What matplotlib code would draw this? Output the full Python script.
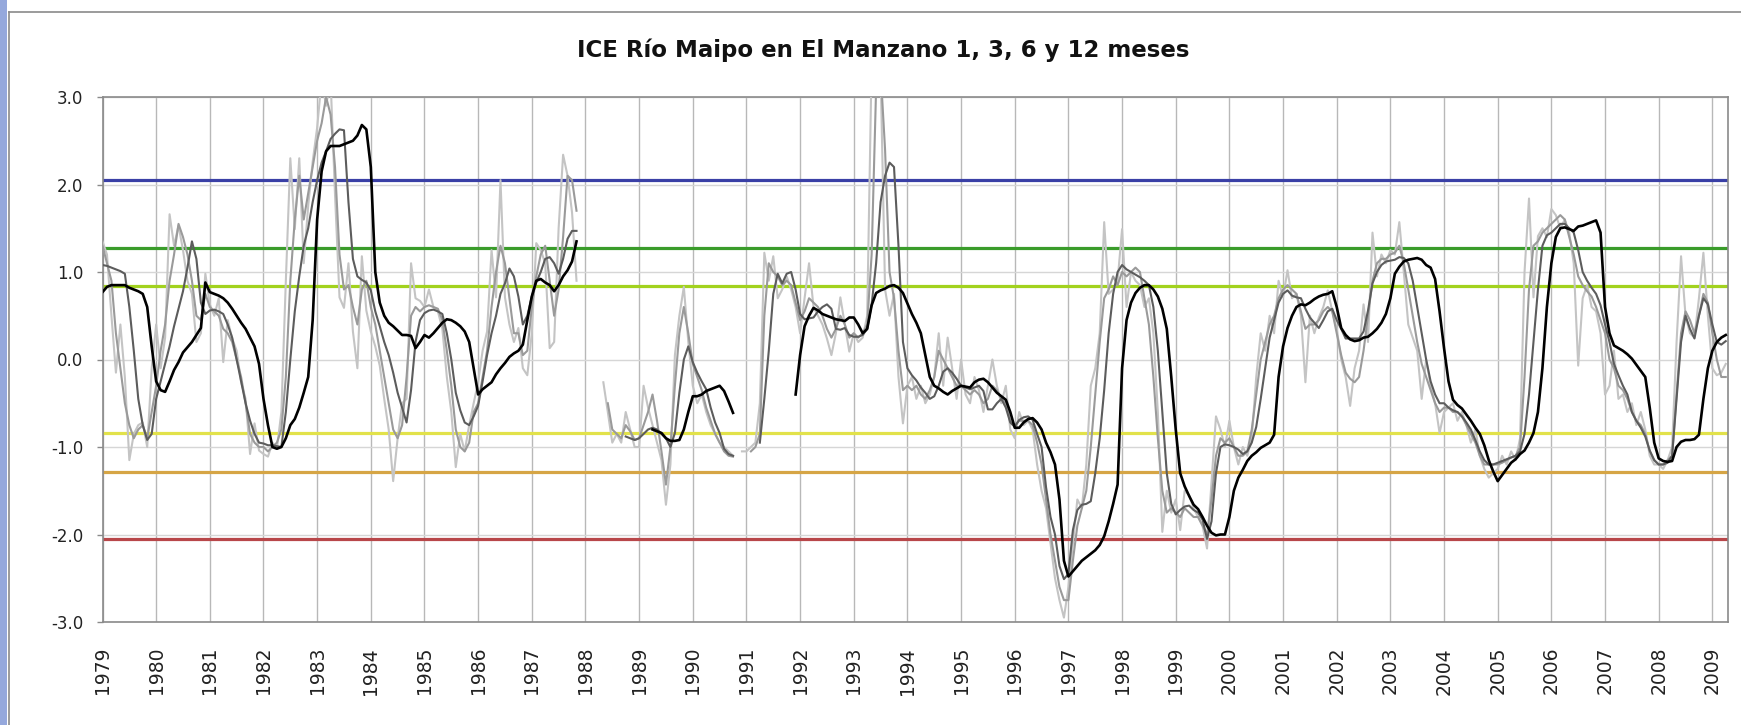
import numpy as np
import matplotlib
matplotlib.use("Agg")
import matplotlib.pyplot as plt
from matplotlib.lines import Line2D
from matplotlib.patches import Rectangle

nan = np.nan

# Datos mensuales desde enero 1979 (ICE 1, 3, 6 y 12 meses)
ice_1 = [
    1.35, 1.20, 0.50, -0.15, 0.40, -0.20, -1.15, -0.85, -0.75, -0.72, -1.00, -0.10,  # 1979
    0.40, -0.10, 0.25, 1.66, 1.30, 1.53, 1.25, 0.90, 0.75, 0.20, 0.30, 0.98,  # 1980
    0.63, 0.50, 0.70, -0.03, 0.45, 0.24, 0.10, -0.26, -0.45, -1.08, -0.73, -1.04,  # 1981
    -1.08, -1.11, -0.95, -1.02, -0.60, 0.90, 2.30, 1.49, 2.30, 1.10, 1.76, 2.26,  # 1982
    2.65, 3.20, 2.90, 3.20, 1.88, 0.71, 0.59, 1.10, 0.32, -0.10, 1.18, 0.56,  # 1983
    0.32, 0.15, -0.07, -0.45, -0.80, -1.39, -0.90, -0.50, -0.45, 1.10, 0.70, 0.67,  # 1984
    0.60, 0.80, 0.60, 0.55, 0.35, -0.20, -0.60, -1.23, -0.85, -1.05, -0.75, -0.50,  # 1985
    -0.26, 0.10, 0.32, 1.25, 0.71, 2.05, 0.71, 0.40, 0.20, 0.36, -0.10, -0.18,  # 1986
    0.30, 1.33, 1.25, 1.10, 0.13, 0.20, 1.50, 2.34, 2.10, 1.68, 0.90, nan,  # 1987
    nan, nan, nan, nan, -0.26, -0.60, -0.95, -0.85, -0.95, -0.60, -0.80, -1.00,  # 1988
    -1.00, -0.30, -0.55, -0.75, -0.95, -1.15, -1.66, -1.20, 0.05, 0.50, 0.83, 0.20,  # 1989
    -0.30, -0.50, -0.40, -0.60, -0.75, -0.85, -0.95, -1.00, -1.05, -1.10, nan, -1.05,  # 1990
    -1.05, -1.00, -0.95, -0.50, 1.22, 0.90, 1.18, 0.70, 0.80, 0.95, 0.80, 0.60,  # 1991
    0.30, 0.70, 1.10, 0.60, 0.50, 0.40, 0.24, 0.05, 0.30, 0.71, 0.40, 0.09,  # 1992
    0.30, 0.20, 0.25, 0.50, 3.40, 3.20, 3.30, 0.80, 0.50, 0.75, -0.20, -0.73,  # 1993
    -0.30, -0.20, -0.45, -0.30, -0.50, -0.40, -0.20, 0.30, -0.30, 0.25, -0.10, -0.45,  # 1994
    0.00, -0.40, -0.50, -0.20, -0.35, -0.60, -0.30, 0.00, -0.30, -0.50, -0.30, -0.80,  # 1995
    -0.90, -0.60, -0.75, -0.70, -0.80, -1.20, -1.50, -1.70, -2.10, -2.50, -2.75, -2.95,  # 1996
    -2.60, -2.10, -1.60, -1.70, -1.20, -0.30, -0.10, 0.30, 1.57, 0.75, 0.80, 0.90,  # 1997
    1.49, 0.60, 1.00, 0.90, 0.85, 0.60, 0.70, 0.30, -0.60, -1.97, -1.50, -1.75,  # 1998
    -1.60, -1.95, -1.50, -1.55, -1.70, -1.80, -1.90, -2.16, -1.40, -0.65, -0.80, -1.00,  # 1999
    -0.70, -1.00, -1.20, -1.00, -1.10, -0.90, -0.20, 0.30, 0.10, 0.50, 0.30, 0.90,  # 2000
    0.71, 1.02, 0.70, 0.75, 0.50, -0.26, 0.50, 0.30, 0.48, 0.60, 0.79, 0.55,  # 2001
    0.35, 0.00, -0.20, -0.53, -0.10, 0.10, 0.63, 0.20, 1.45, 0.95, 1.20, 1.10,  # 2002
    1.25, 1.20, 1.57, 1.00, 0.40, 0.25, 0.10, -0.45, 0.00, -0.30, -0.50, -0.84,  # 2003
    -0.60, -0.55, -0.50, -0.70, -0.60, -0.75, -0.95, -0.80, -1.10, -1.25, -1.35, -1.30,  # 2004
    -1.25, -1.10, -1.20, -1.05, -1.15, -0.90, 1.00, 1.84, 0.71, 1.41, 1.50, 1.40,  # 2005
    1.72, 1.65, 1.50, 1.60, 1.45, 1.10, -0.07, 0.70, 0.85, 0.60, 0.55, 0.30,  # 2006
    -0.40, -0.30, 0.10, -0.45, -0.40, -0.60, -0.50, -0.75, -0.60, -0.80, -1.10, -1.20,  # 2007
    -1.20, -1.25, -1.15, -1.00, 0.20, 1.18, 0.50, 0.30, 0.25, 0.70, 1.22, 0.50,  # 2008
    -0.10, -0.18, -0.15, -0.05,  # 2009
]

ice_3 = [
    1.30, 1.10, 0.90, 0.30, -0.10, -0.50, -0.75, -0.90, -0.80, -0.75, -0.90, -0.60,  # 1979
    -0.30, 0.10, 0.40, 0.90, 1.20, 1.55, 1.40, 1.20, 0.90, 0.50, 0.45, 0.75,  # 1980
    0.60, 0.55, 0.50, 0.35, 0.30, 0.20, 0.00, -0.20, -0.50, -0.85, -0.95, -1.00,  # 1981
    -1.00, -1.05, -1.00, -0.95, -0.80, -0.20, 0.90, 1.60, 2.10, 1.60, 1.90, 2.20,  # 1982
    2.50, 2.70, 3.00, 2.80, 2.20, 1.20, 0.80, 0.85, 0.60, 0.40, 0.80, 0.90,  # 1983
    0.60, 0.40, 0.10, -0.20, -0.50, -0.80, -0.90, -0.75, -0.20, 0.50, 0.60, 0.55,  # 1984
    0.60, 0.62, 0.60, 0.58, 0.45, 0.10, -0.30, -0.80, -1.00, -1.05, -0.95, -0.60,  # 1985
    -0.50, -0.20, 0.10, 0.60, 1.00, 1.30, 1.10, 0.70, 0.30, 0.30, 0.05, 0.10,  # 1986
    0.60, 0.95, 1.20, 1.30, 0.90, 0.50, 0.80, 1.40, 2.10, 2.05, 1.70, nan,  # 1987
    nan, nan, nan, nan, nan, -0.50, -0.80, -0.85, -0.90, -0.75, -0.82, -0.92,  # 1988
    -0.90, -0.75, -0.60, -0.40, -0.70, -1.05, -1.43, -1.00, -0.30, 0.30, 0.60, 0.30,  # 1989
    -0.05, -0.20, -0.35, -0.55, -0.70, -0.85, -0.95, -1.05, -1.10, -1.11, nan, nan,  # 1990
    nan, -1.05, -1.00, -0.85, 0.50, 1.10, 1.00, 0.95, 0.85, 0.90, 0.85, 0.65,  # 1991
    0.45, 0.55, 0.70, 0.65, 0.60, 0.50, 0.35, 0.25, 0.35, 0.50, 0.40, 0.25,  # 1992
    0.30, 0.25, 0.30, 0.40, 1.20, 3.10, 3.30, 2.40, 1.00, 0.70, 0.10, -0.35,  # 1993
    -0.30, -0.35, -0.30, -0.40, -0.45, -0.35, -0.20, 0.10, 0.00, -0.10, -0.20, -0.30,  # 1994
    -0.30, -0.35, -0.40, -0.35, -0.40, -0.50, -0.45, -0.30, -0.35, -0.45, -0.50, -0.70,  # 1995
    -0.75, -0.70, -0.70, -0.70, -0.75, -0.95, -1.20, -1.60, -2.00, -2.30, -2.60, -2.75,  # 1996
    -2.75, -2.30, -1.90, -1.70, -1.50, -1.00, -0.40, 0.20, 0.70, 0.80, 0.95, 0.85,  # 1997
    1.00, 0.95, 1.00, 1.05, 1.00, 0.70, 0.40, -0.20, -0.90, -1.50, -1.75, -1.70,  # 1998
    -1.75, -1.80, -1.70, -1.75, -1.80, -1.80, -1.90, -2.00, -1.60, -1.10, -0.90, -0.95,  # 1999
    -0.90, -1.00, -1.10, -1.10, -1.05, -0.80, -0.40, 0.00, 0.20, 0.40, 0.50, 0.70,  # 2000
    0.80, 0.85, 0.80, 0.75, 0.55, 0.35, 0.40, 0.40, 0.45, 0.55, 0.60, 0.55,  # 2001
    0.30, 0.05, -0.15, -0.22, -0.26, -0.20, 0.10, 0.50, 0.90, 1.10, 1.15, 1.15,  # 2002
    1.20, 1.22, 1.30, 1.10, 0.80, 0.50, 0.20, -0.05, -0.20, -0.35, -0.50, -0.60,  # 2003
    -0.55, -0.55, -0.60, -0.60, -0.65, -0.75, -0.85, -0.95, -1.10, -1.20, -1.20, -1.20,  # 2004
    -1.20, -1.18, -1.15, -1.12, -1.10, -1.00, -0.20, 0.80, 1.30, 1.35, 1.45, 1.50,  # 2005
    1.55, 1.60, 1.65, 1.60, 1.40, 1.20, 0.95, 0.85, 0.78, 0.72, 0.60, 0.45,  # 2006
    0.30, 0.00, -0.10, -0.30, -0.35, -0.45, -0.60, -0.70, -0.75, -0.85, -1.05, -1.15,  # 2007
    -1.20, -1.20, -1.15, -1.10, -0.40, 0.30, 0.55, 0.45, 0.30, 0.50, 0.75, 0.65,  # 2008
    0.30, 0.00, -0.20, -0.20,  # 2009
]

ice_6 = [
    1.08, 1.07, 1.05, 1.03, 1.01, 0.98, 0.60, 0.10, -0.45, -0.75, -0.92, -0.85,  # 1979
    -0.45, -0.25, -0.05, 0.15, 0.38, 0.58, 0.78, 1.05, 1.35, 1.15, 0.65, 0.52,  # 1980
    0.56, 0.57, 0.55, 0.52, 0.40, 0.25, 0.00, -0.25, -0.50, -0.70, -0.85, -0.95,  # 1981
    -0.96, -0.98, -0.98, -0.99, -1.00, -0.60, 0.00, 0.55, 0.95, 1.30, 1.50, 1.80,  # 1982
    2.05, 2.25, 2.38, 2.52, 2.58, 2.63, 2.62, 1.80, 1.15, 0.95, 0.91, 0.88,  # 1983
    0.79, 0.55, 0.38, 0.20, 0.05, -0.15, -0.38, -0.55, -0.72, -0.35, 0.20, 0.45,  # 1984
    0.53, 0.56, 0.57, 0.55, 0.52, 0.30, 0.00, -0.38, -0.58, -0.72, -0.75, -0.65,  # 1985
    -0.53, -0.25, 0.05, 0.30, 0.50, 0.75, 0.87, 1.04, 0.95, 0.72, 0.40, 0.50,  # 1986
    0.72, 0.88, 1.00, 1.15, 1.17, 1.10, 0.98, 1.15, 1.38, 1.47, 1.47, nan,  # 1987
    nan, nan, nan, nan, nan, nan, nan, nan, nan, -0.88, -0.90, -0.92,  # 1988
    -0.90, -0.85, -0.80, -0.78, -0.80, -0.85, -0.90, -1.00, -0.84, -0.38, 0.00, 0.15,  # 1989
    -0.03, -0.15, -0.25, -0.34, -0.55, -0.72, -0.84, -1.02, -1.08, -1.10, nan, nan,  # 1990
    nan, nan, nan, -0.95, -0.45, 0.10, 0.75, 0.98, 0.87, 0.98, 1.00, 0.80,  # 1991
    0.52, 0.46, 0.47, 0.48, 0.55, 0.60, 0.63, 0.58, 0.35, 0.34, 0.36, 0.28,  # 1992
    0.26, 0.26, 0.28, 0.35, 0.63, 1.10, 1.80, 2.10, 2.25, 2.20, 1.30, 0.20,  # 1993
    -0.10, -0.18, -0.24, -0.32, -0.38, -0.45, -0.42, -0.30, -0.14, -0.10, -0.15, -0.22,  # 1994
    -0.30, -0.32, -0.34, -0.32, -0.30, -0.36, -0.57, -0.57, -0.50, -0.45, -0.55, -0.72,  # 1995
    -0.77, -0.69, -0.66, -0.65, -0.69, -0.85, -1.00, -1.46, -1.80, -2.00, -2.36, -2.51,  # 1996
    -2.45, -1.95, -1.72, -1.66, -1.65, -1.62, -1.30, -0.90, -0.35, 0.30, 0.75, 1.00,  # 1997
    1.08, 1.03, 1.00, 0.97, 0.94, 0.90, 0.85, 0.60, 0.10, -0.60, -1.30, -1.65,  # 1998
    -1.77, -1.72, -1.68, -1.67, -1.72, -1.75, -1.83, -2.05, -1.85, -1.30, -1.00, -0.97,  # 1999
    -0.98, -1.00, -1.03, -1.08, -1.05, -0.95, -0.77, -0.45, -0.10, 0.25, 0.45, 0.65,  # 2000
    0.75, 0.79, 0.73, 0.71, 0.70, 0.58, 0.48, 0.42, 0.36, 0.45, 0.55, 0.58,  # 2001
    0.45, 0.35, 0.24, 0.24, 0.24, 0.24, 0.32, 0.56, 0.87, 1.00, 1.08, 1.12,  # 2002
    1.13, 1.14, 1.17, 1.16, 1.10, 0.90, 0.60, 0.30, 0.00, -0.25, -0.40, -0.50,  # 2003
    -0.50, -0.55, -0.58, -0.60, -0.65, -0.72, -0.80, -0.92, -1.05, -1.15, -1.20, -1.20,  # 2004
    -1.18, -1.16, -1.14, -1.12, -1.10, -1.05, -0.85, -0.40, 0.20, 0.80, 1.30, 1.42,  # 2005
    1.45, 1.50, 1.55, 1.55, 1.50, 1.45, 1.25, 1.00, 0.90, 0.82, 0.75, 0.62,  # 2006
    0.40, 0.20, -0.05, -0.18, -0.30, -0.40, -0.60, -0.70, -0.78, -0.88, -1.04, -1.15,  # 2007
    -1.20, -1.20, -1.18, -1.10, -0.45, 0.20, 0.50, 0.35, 0.24, 0.50, 0.70, 0.63,  # 2008
    0.40, 0.20, 0.17, 0.21,  # 2009
]

ice_12 = [
    0.77, 0.83, 0.85, 0.85, 0.85, 0.85, 0.82, 0.80, 0.78, 0.75, 0.60, 0.15,  # 1979
    -0.25, -0.35, -0.37, -0.25, -0.12, -0.03, 0.08, 0.14, 0.20, 0.28, 0.36, 0.88,  # 1980
    0.77, 0.75, 0.73, 0.70, 0.65, 0.58, 0.50, 0.42, 0.35, 0.25, 0.15, -0.05,  # 1981
    -0.45, -0.75, -1.00, -1.02, -1.00, -0.90, -0.75, -0.68, -0.55, -0.38, -0.20, 0.45,  # 1982
    1.60, 2.15, 2.38, 2.44, 2.44, 2.44, 2.46, 2.48, 2.50, 2.56, 2.68, 2.63,  # 1983
    2.20, 1.00, 0.65, 0.50, 0.42, 0.38, 0.33, 0.28, 0.28, 0.27, 0.13, 0.20,  # 1984
    0.28, 0.25, 0.30, 0.36, 0.42, 0.46, 0.45, 0.42, 0.38, 0.32, 0.20, -0.10,  # 1985
    -0.40, -0.34, -0.30, -0.26, -0.17, -0.10, -0.04, 0.03, 0.07, 0.10, 0.17, 0.45,  # 1986
    0.72, 0.90, 0.92, 0.88, 0.85, 0.78, 0.85, 0.95, 1.02, 1.12, 1.35, nan,  # 1987
    nan, nan, nan, nan, nan, nan, nan, nan, nan, nan, nan, nan,  # 1988
    nan, nan, nan, -0.80, -0.82, -0.84, -0.90, -0.93, -0.93, -0.92, -0.80, -0.60,  # 1989
    -0.42, -0.42, -0.40, -0.36, -0.34, -0.32, -0.30, -0.36, -0.48, -0.61, nan, nan,  # 1990
    nan, nan, nan, nan, nan, nan, nan, nan, nan, nan, nan, -0.40,  # 1991
    0.05, 0.38, 0.50, 0.59, 0.56, 0.52, 0.50, 0.48, 0.46, 0.45, 0.44, 0.48,  # 1992
    0.48, 0.40, 0.30, 0.35, 0.62, 0.76, 0.79, 0.81, 0.84, 0.85, 0.82, 0.76,  # 1993
    0.64, 0.52, 0.42, 0.30, 0.05, -0.20, -0.30, -0.33, -0.37, -0.40, -0.36, -0.33,  # 1994
    -0.30, -0.31, -0.32, -0.26, -0.23, -0.22, -0.26, -0.32, -0.38, -0.42, -0.46, -0.60,  # 1995
    -0.78, -0.78, -0.72, -0.68, -0.67, -0.72, -0.80, -0.95, -1.06, -1.20, -1.60, -2.30,  # 1996
    -2.48, -2.42, -2.36, -2.30, -2.26, -2.22, -2.18, -2.12, -2.02, -1.85, -1.65, -1.43,  # 1997
    -0.10, 0.45, 0.65, 0.76, 0.82, 0.85, 0.85, 0.80, 0.72, 0.58, 0.35, -0.20,  # 1998
    -0.80, -1.30, -1.45, -1.56, -1.66, -1.71, -1.80, -1.90, -1.98, -2.01, -2.00, -2.00,  # 1999
    -1.80, -1.50, -1.35, -1.26, -1.16, -1.10, -1.06, -1.01, -0.98, -0.95, -0.86, -0.20,  # 2000
    0.15, 0.36, 0.50, 0.60, 0.63, 0.62, 0.65, 0.69, 0.72, 0.74, 0.75, 0.78,  # 2001
    0.60, 0.36, 0.28, 0.23, 0.21, 0.22, 0.25, 0.26, 0.30, 0.35, 0.42, 0.52,  # 2002
    0.70, 0.98, 1.06, 1.12, 1.14, 1.15, 1.16, 1.14, 1.08, 1.05, 0.92, 0.55,  # 2003
    0.13, -0.25, -0.46, -0.52, -0.56, -0.63, -0.70, -0.78, -0.85, -0.98, -1.15, -1.28,  # 2004
    -1.39, -1.32, -1.25, -1.18, -1.14, -1.08, -1.04, -0.95, -0.84, -0.60, -0.10, 0.60,  # 2005
    1.10, 1.40, 1.50, 1.51, 1.49, 1.47, 1.52, 1.53, 1.55, 1.57, 1.59, 1.45,  # 2006
    0.60, 0.30, 0.16, 0.13, 0.10, 0.06, 0.01, -0.06, -0.13, -0.20, -0.55, -0.95,  # 2007
    -1.13, -1.16, -1.17, -1.16, -1.00, -0.94, -0.92, -0.92, -0.91, -0.86, -0.45, -0.10,  # 2008
    0.10, 0.20, 0.25, 0.28,  # 2009
]

anios = list(range(1979, 2010))

# umbrales (percentiles 2, 10, 20, 80, 90, 98)
umbrales = [2.05, 1.28, 0.84, -0.84, -1.28, -2.05]
colores_umbral = ["#3a40a6", "#3a9c2a", "#a2d21e", "#e2e24a", "#d6a545", "#b8474a"]

W, H = 1741, 725
fig = plt.figure(figsize=(W / 100, H / 100), dpi=100)
fig.patch.set_facecolor("white")

# marco del grafico (como en Excel)
fig.patches.append(Rectangle((0, 0), 7 / W, 1, transform=fig.transFigure,
                             facecolor="#95a8dc", edgecolor="none"))
fig.lines.append(Line2D([9 / W, 9 / W], [0, 1 - 12 / H], transform=fig.transFigure,
                        color="#8a8a8a", lw=1.2))
fig.lines.append(Line2D([9 / W, 1], [1 - 12 / H, 1 - 12 / H], transform=fig.transFigure,
                        color="#8a8a8a", lw=1.2))

left, right, top, bottom = 102.5, 1728, 97, 622
ax = fig.add_axes([left / W, (H - bottom) / H, (right - left) / W, (bottom - top) / H])

for val, col in zip(umbrales, colores_umbral):
    ax.axhline(val, color=col, lw=2.3, zorder=2)

series = [(ice_1, "#c4c4c4", 1.5), (ice_3, "#9a9a9a", 1.5),
          (ice_6, "#5c5c5c", 1.5), (ice_12, "#000000", 1.9)]
for datos, col, lw in series:
    y = np.array(datos, dtype=float)
    x = np.arange(len(y))
    ax.plot(x, y, color=col, lw=lw, zorder=3)

ax.set_xlim(0, 363.5)
ax.set_ylim(-3, 3)

ax.set_yticks(np.arange(-3, 4, 1))
ax.set_yticklabels([f"{v:.1f}" for v in np.arange(-3, 4, 1)])
ax.set_xticks([12 * (a - 1979) for a in anios])
ax.set_xticklabels([str(a) for a in anios], rotation=90)

ax.grid(axis="x", color="#b8b8b8", lw=1.0, zorder=1)
ax.grid(axis="y", color="#d6d6d6", lw=1.0, zorder=1)

for s in ax.spines.values():
    s.set_color("#8a8a8a")
    s.set_linewidth(1.2)

ax.tick_params(axis="y", length=4, width=1, color="#8a8a8a", pad=10,
               labelsize=12, labelcolor="#222222")
ax.tick_params(axis="x", length=0, pad=18, labelsize=13.5, labelcolor="#222222")

fig.text(883 / W, 1 - 50 / H, "ICE Río Maipo en El Manzano 1, 3, 6 y 12 meses",
         ha="center", va="center", fontsize=16.5, fontweight="bold", color="#111111")

fig.savefig("out.png", dpi=100)
